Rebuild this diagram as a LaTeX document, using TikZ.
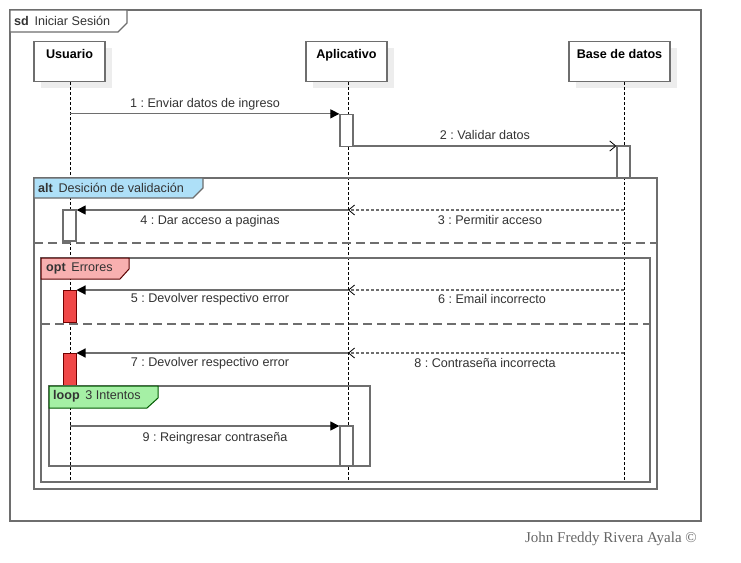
\documentclass[tikz,border=0pt]{standalone}
\usepackage{fontspec}
\setmainfont{Liberation Sans}
\newfontfamily\copyfont{Liberation Serif}
\usetikzlibrary{arrows.meta}
\frenchspacing
\definecolor{frm}{HTML}{6E6E6E}
\definecolor{altc}{HTML}{AEE0F8}
\definecolor{optc}{HTML}{F8B0B0}
\definecolor{loopc}{HTML}{A5F0A5}
\definecolor{redact}{HTML}{F04848}
\definecolor{txt}{HTML}{333333}
\tikzset{
  every node/.style={font=\fontsize{12.6}{14}\selectfont, text=txt, inner sep=0pt},
  head/.style={draw=frm, line width=1.3pt, fill=white, minimum width=71pt, minimum height=40pt,
    text height=9pt, text depth=15.4pt, font=\fontsize{12.6}{14}\selectfont\bfseries, text=black},
  headshadow/.style={fill=black!7, draw=none},
  lifeline/.style={black, line width=0.8pt, dash pattern=on 2.5pt off 2.5pt},
  act/.style={draw=frm, line width=1.3pt, fill=white, minimum width=13pt},
  redbox/.style={draw=red!45!black, line width=1pt, fill=redact, minimum width=13pt},
  msg/.style={frm, line width=1.2pt, -{Triangle[length=9pt,width=9pt,black]}},
  async/.style={frm, line width=1.2pt, -{Straight Barb[length=6pt,width=10pt,black,line width=0.8pt]}},
  reply/.style={frm, line width=1.2pt, dash pattern=on 3pt off 2pt, -{Straight Barb[length=6pt,width=10pt,black,line width=0.8pt]}},
  frame/.style={draw=frm, line width=1.4pt},
  divider/.style={frm, line width=1.4pt, dash pattern=on 9pt off 5pt},
  lbl/.style={anchor=center},
}
\begin{document}
\begin{tikzpicture}[x=1pt,y=-1pt]
\useasboundingbox (0,0) rectangle (741,562);
\fill[white] (0,0) rectangle (741,562);
% outer sd frame
\draw[frame] (10,10) rectangle (701,521);
\draw[frame, fill=white] (10,10) -- (127,10) -- (127,23) -- (118,32) -- (10,32) -- cycle;
\node[anchor=west] (sdtab) at (14,21) {\textbf{sd}\, Iniciar Sesión};
% lifeline heads
\fill[headshadow] (41,48) rectangle (112,88);
\fill[headshadow] (313,48) rectangle (394,88);
\fill[headshadow] (576,48) rectangle (677,88);
\node[head] (usr) at (69.5,61.5) {Usuario};
\node[head, minimum width=81pt] (app) at (346.5,61.5) {Aplicativo};
\node[head, minimum width=101pt] (db) at (619.5,61.5) {Base de datos};
\coordinate (uL) at (70,0);
\coordinate (aL) at (348,0);
\coordinate (dL) at (624,0);
\coordinate (bot) at (0,482);
\draw[lifeline] (uL |- usr.south) -- (uL |- bot);
\draw[lifeline] (aL |- app.south) -- (aL |- bot);
\draw[lifeline] (dL |- db.south) -- (dL |- bot);
% activations 1,2
\node[act, minimum height=32pt] (a1) at (346.5,130.5) {};
\node[act, minimum height=32pt] (a2) at (623.5,162) {};
% message 1
\draw[msg] (uL |- a1.north) -- (a1.north west);
\node[lbl] (l1) at (205,104) {1 : Enviar datos de ingreso};
% message 2
\coordinate (m2) at (0,146);
\draw[async] (a1.east |- m2) -- (a2.west |- m2);
\node[lbl] (l2) at (485,135) {2 : Validar datos};
% alt frame
\draw[frame] (34,178) rectangle (657,489);
\draw[frame, fill=altc] (34,178) -- (203,178) -- (203,188) -- (193,198) -- (34,198) -- cycle;
\node[anchor=west] (alttab) at (38,188) {\textbf{alt}\, Desición de validación};
% message 3 & 4
\node[act, minimum height=31pt] (a3) at (69.5,225.5) {};
\coordinate (m3) at (0,210);
\draw[reply] (dL |- m3) -- (aL |- m3);
\draw[msg] (aL |- m3) -- (a3.east |- m3);
\node[lbl] (l3) at (490,220) {3 : Permitir acceso};
\node[lbl] (l4) at (210,221) {4 : Dar acceso a paginas};
% alt divider
\draw[divider] (34,243) -- (657,243);
% opt frame
\draw[frame] (41,258) rectangle (650,482);
\draw[draw=red!35!black, line width=1pt, fill=optc] (41,258) -- (129,258) -- (129,269) -- (120,279) -- (41,279) -- cycle;
\node[anchor=west] (opttab) at (46,268.5) {\textbf{opt}\, Errores};
% message 6 & 5
\node[redbox, minimum height=32pt] (a5) at (69.5,306) {};
\coordinate (m6) at (0,290);
\draw[reply] (dL |- m6) -- (aL |- m6);
\draw[msg] (aL |- m6) -- (a5.east |- m6);
\node[lbl] (l6) at (492,299) {6 : Email incorrecto};
\node[lbl] (l5) at (210,299) {5 : Devolver respectivo error};
% opt divider
\draw[divider] (41,324) -- (650,324);
% message 8 & 7
\node[redbox, minimum height=32pt] (a7) at (69.5,369.5) {};
\coordinate (m8) at (0,353);
\draw[reply] (dL |- m8) -- (aL |- m8);
\draw[msg] (aL |- m8) -- (a7.east |- m8);
\node[lbl] (l8) at (485,363) {8 : Contraseña incorrecta};
\node[lbl] (l7) at (210,363) {7 : Devolver respectivo error};
% loop frame
\draw[frame] (49,386) rectangle (370,466);
\draw[draw=green!35!black, line width=1pt, fill=loopc] (49,386) -- (158,386) -- (158,398) -- (147,408) -- (49,408) -- cycle;
\node[anchor=west] (looptab) at (53,396.5) {\textbf{loop}\, 3 Intentos};
% message 9
\node[act, minimum height=40pt] (a9) at (346.5,446) {};
\coordinate (m9) at (0,426);
\draw[msg] (uL |- m9) -- (a9.west |- m9);
\node[lbl] (l9) at (215,438) {9 : Reingresar contraseña};
% copyright
\node[anchor=east, font=\copyfont\fontsize{15}{17}\selectfont, text=black!60] (copy) at (697,539) {John Freddy Rivera Ayala ©};
\end{tikzpicture}
\end{document}
